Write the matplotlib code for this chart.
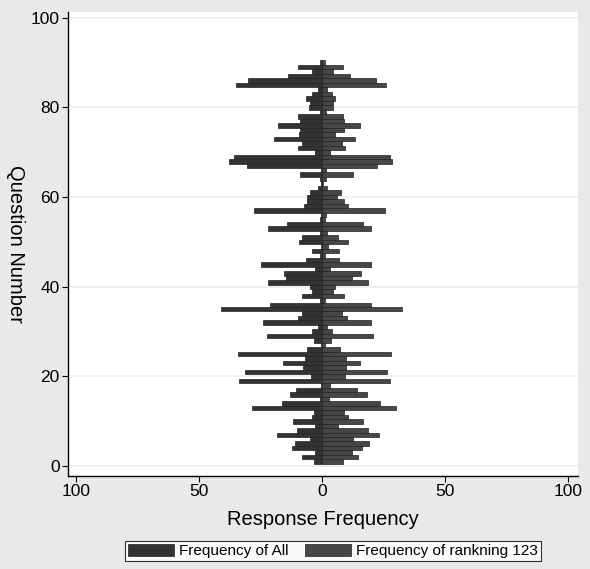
import matplotlib
matplotlib.use("Agg")
import matplotlib.pyplot as plt
from matplotlib.patches import Patch
import numpy as np

plt.rcParams['font.family'] = ['Liberation Sans', 'DejaVu Sans']

questions = list(range(1, 91))
freq_all = [3.3, 8, 3, 12.2, 11, 5, 18.3, 10.4, 3, 11.8,
            4.3, 3.5, 28.7, 16.5, 1, 13, 10.7, 0.3, 33.7, 4.6,
            31.3, 7.9, 15.8, 7, 34, 6, 0.5, 3.2, 22.6, 4,
            1.5, 24, 9.7, 8, 41, 21, 1, 8, 4.3, 5,
            22, 14.5, 15.7, 3, 25, 6.6, 1, 4, 0.5, 9.3,
            8, 1, 22, 14.4, 1, 0.3, 27.5, 7.2, 6.2, 6,
            5, 1.5, 0.5, 1, 9, 0.5, 30.4, 37.8, 36, 2.8,
            10, 8.3, 19.4, 9.3, 9, 18, 9, 9.9, 1, 5.3,
            5, 6.6, 4, 1.5, 35, 30, 14, 4, 10, 1]
freq_r123 = [8.5, 14.6, 12, 16, 19, 12.6, 23, 18.7, 6.6, 16.7,
             10.7, 9, 30, 23.4, 2.6, 18.3, 14, 3, 27.6, 9.3,
             26.3, 9.8, 15.3, 9.6, 28, 7.2, 1, 3.5, 20.7, 4.2,
             2, 20, 10, 8, 32.5, 20, 1, 9, 4.5, 5.1,
             18.7, 12, 15.7, 3, 20, 7, 1, 7, 2.5, 10.7,
             6.6, 2, 20, 16.8, 1, 1.5, 25.6, 10.7, 8.7, 6,
             7.7, 2, 0.5, 1.5, 12.5, 1.5, 22.5, 28.3, 27.6, 3.2,
             9.3, 8, 13.4, 5.3, 8.7, 15.4, 9, 8.3, 1.5, 4.6,
             4.6, 5.3, 4, 2, 26, 22, 11.4, 4.6, 8.3, 1]

xticks = [-100, -50, 0, 50, 100]
xticklabels = ['100', '50', '0', '50', '100']
yticks = [0, 20, 40, 60, 80, 100]
labels = ['Frequency of All', 'Frequency of rankning 123']
colors = ['#333333', '#474747']

fig = plt.figure(figsize=(5.9, 5.69), dpi=100)
fig.patch.set_facecolor('#e9e9e9')
ax = fig.add_axes([68/590, 1 - 476/569, (578-68)/590, (476-12)/569])
ax.set_facecolor('white')

q = np.array(questions)
ax.barh(q, -np.array(freq_all), height=1.0, color=colors[0], edgecolor='#222222', linewidth=0.5, zorder=3)
ax.barh(q, np.array(freq_r123), height=1.0, color=colors[1], edgecolor='#222222', linewidth=0.5, zorder=3)

ax.set_xlim(-103.3, 104)
ax.set_ylim(-2.2, 101.3)
ax.set_xticks(xticks)
ax.set_xticklabels(xticklabels, fontsize=12.5)
ax.set_yticks(yticks)
ax.set_yticklabels([str(v) for v in yticks], fontsize=12.5)
ax.yaxis.grid(True, color='#eeeeee', linewidth=1.2, zorder=0)
ax.xaxis.grid(False)
for s in ['top', 'right']:
    ax.spines[s].set_visible(False)
for s in ['left', 'bottom']:
    ax.spines[s].set_color('black')
    ax.spines[s].set_linewidth(1.0)
ax.tick_params(axis='both', direction='out', length=4, width=0.8, colors='black', pad=2)
ax.set_xlabel('Response Frequency', fontsize=14.5, labelpad=8)
ax.set_ylabel('Question Number', fontsize=14.5, rotation=-90, labelpad=18)

handles = [Patch(facecolor=colors[0], edgecolor='#222222', linewidth=0.5),
           Patch(facecolor=colors[1], edgecolor='#222222', linewidth=0.5)]
leg = fig.legend(handles, labels, loc='center', bbox_to_anchor=(333/590, 1 - 551/569),
                 ncol=2, fontsize=11, frameon=True, fancybox=False, edgecolor='black',
                 handlelength=3.0, handleheight=0.8, borderpad=0.2, columnspacing=1.1,
                 handletextpad=0.3, borderaxespad=0)
leg.get_frame().set_linewidth(0.8)

fig.savefig('out.png', dpi=100, facecolor=fig.get_facecolor())
